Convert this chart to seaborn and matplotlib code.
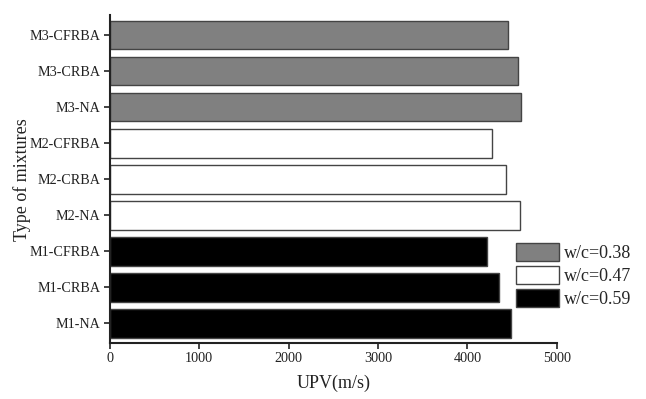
import matplotlib
matplotlib.use("Agg")
import matplotlib.pyplot as plt
import seaborn as sns
import pandas as pd

mixtures = ["M3-CFRBA", "M3-CRBA", "M3-NA",
            "M2-CFRBA", "M2-CRBA", "M2-NA",
            "M1-CFRBA", "M1-CRBA", "M1-NA"]
upv = [4456, 4561, 4598,
       4273, 4433, 4590,
       4220, 4351, 4486]
wc = ["w/c=0.38"] * 3 + ["w/c=0.47"] * 3 + ["w/c=0.59"] * 3
wc_levels = ["w/c=0.38", "w/c=0.47", "w/c=0.59"]
colors = ["#808080", "#ffffff", "#000000"]

df = pd.DataFrame({"mix": mixtures, "upv": upv, "wc": wc})

sns.set_style("ticks")
plt.rcParams["font.family"] = ["Liberation Serif", "DejaVu Serif"]

fig = plt.figure(figsize=(6.46, 3.99), dpi=100)
ax = fig.add_axes([0.170, 0.140, 0.692, 0.822])

sns.barplot(data=df, x="upv", y="mix", hue="wc", order=mixtures,
            hue_order=wc_levels, palette=colors, dodge=False,
            width=0.8, edgecolor="#444444", linewidth=1.0, ax=ax)

ax.set_xlim(0, 5000)
ax.set_ylim(8.55, -0.55)
ax.set_xticks([0, 1000, 2000, 3000, 4000, 5000])
ax.set_xlabel("UPV(m/s)", fontsize=13, color="#222222", labelpad=7)
ax.set_ylabel("Type of mixtures", fontsize=13, color="#222222", labelpad=-1)
ax.tick_params(axis="both", labelsize=10.2, colors="#222222",
               direction="out", length=4.5, width=1.2, pad=2)
for side in ["left", "bottom"]:
    ax.spines[side].set_linewidth(1.5)
    ax.spines[side].set_color("#222222")
sns.despine(ax=ax)

handles, labels = ax.get_legend_handles_labels()
ax.legend(handles, labels, loc="upper left", bbox_to_anchor=(0.798, 0.392),
          bbox_transform=fig.transFigure, frameon=False, fontsize=13,
          handlelength=2.4, handleheight=1.2, handletextpad=0.3,
          labelspacing=0.2, borderpad=0, borderaxespad=0)

fig.savefig("out.png", dpi=100)
